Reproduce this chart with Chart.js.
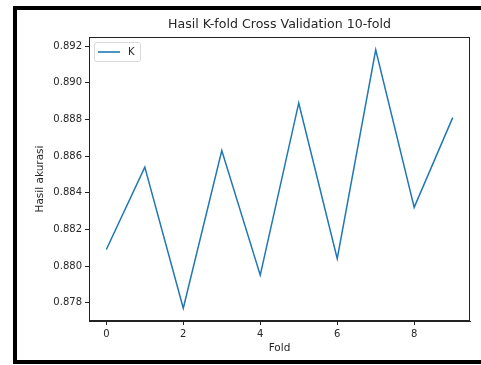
<!DOCTYPE html>
<html>
<head>
<meta charset="utf-8">
<script src="https://cdn.jsdelivr.net/npm/chart.js@4.4.1/dist/chart.umd.min.js"></script>
<style>
  html, body { margin: 0; padding: 0; background: #fff; overflow: hidden; }
  #wrap { position: relative; width: 481px; height: 365px; overflow: hidden; }
  #frame {
    position: absolute; left: 13px; top: 6px; width: 464px; height: 350px;
    border: 4px solid #000; border-right: none; pointer-events: none;
  }
  canvas { position: absolute; left: 0; top: 0; }
</style>
</head>
<body>
<div id="wrap">
  <canvas id="chart" width="481" height="365"></canvas>
  <div id="frame"></div>
</div>
<script>
// data
const folds = [0, 1, 2, 3, 4, 5, 6, 7, 8, 9];
const akurasi = [0.8809, 0.8854, 0.8777, 0.8863, 0.8795, 0.8889, 0.8804, 0.8918, 0.8832, 0.8881];
const xTicks = [0, 2, 4, 6, 8];
const yTicks = [0.878, 0.880, 0.882, 0.884, 0.886, 0.888, 0.890, 0.892];
const seriesLabel = 'K';
const chartTitle = 'Hasil K-fold Cross Validation 10-fold';

const textColor = '#262626';
const lineColor = '#1f77b4';

// axes frame (matplotlib style box round the plot)
const frameBox = {
    id: 'frameBox',
    afterDraw(chart) {
        const { ctx, chartArea: a } = chart;
        ctx.save();
        ctx.strokeStyle = '#222';
        ctx.lineWidth = 1;
        ctx.strokeRect(a.left + 0.5, a.top + 0.5, a.right - a.left - 1, a.bottom - a.top - 1);
        ctx.restore();
    }
};

// title centred over the plot area, like matplotlib does
const axesTitle = {
    id: 'axesTitle',
    afterDraw(chart) {
        const { ctx, chartArea: a } = chart;
        ctx.save();
        ctx.fillStyle = textColor;
        ctx.font = '12.6px "DejaVu Sans"';
        ctx.textAlign = 'center';
        ctx.textBaseline = 'middle';
        ctx.fillText(chartTitle, (a.left + a.right) / 2, a.top - 12);
        ctx.restore();
    }
};

// legend box drawn inside the plot, upper left
const innerLegend = {
    id: 'innerLegend',
    afterDraw(chart) {
        const { ctx, chartArea: a } = chart;
        const ds = chart.data.datasets[0];
        const x = a.left + 5, y = a.top + 5, w = 46, h = 19;
        ctx.save();
        ctx.fillStyle = 'rgba(255,255,255,0.8)';
        ctx.strokeStyle = '#d9d9d9';
        ctx.lineWidth = 1;
        ctx.beginPath();
        ctx.roundRect(x + 0.5, y + 0.5, w, h, 2);
        ctx.fill();
        ctx.stroke();
        ctx.strokeStyle = ds.borderColor;
        ctx.lineWidth = 1.6;
        ctx.beginPath();
        ctx.moveTo(x + 4, y + h / 2 + 0.5);
        ctx.lineTo(x + 26, y + h / 2 + 0.5);
        ctx.stroke();
        ctx.fillStyle = textColor;
        ctx.font = '10px "DejaVu Sans"';
        ctx.textBaseline = 'middle';
        ctx.fillText(ds.label, x + 34, y + h / 2 + 1);
        ctx.restore();
    }
};

const ctx = document.getElementById('chart').getContext('2d');
new Chart(ctx, {
    type: 'line',
    data: {
        datasets: [{
            label: seriesLabel,
            data: folds.map((f, i) => ({ x: f, y: akurasi[i] })),
            borderColor: lineColor,
            borderWidth: 1.5,
            pointRadius: 0,
            tension: 0,
            fill: false
        }]
    },
    options: {
        responsive: false,
        animation: false,
        layout: { padding: { left: 34, top: 37, right: 11, bottom: 10 } },
        plugins: {
            legend: { display: false },
            tooltip: { enabled: false },
            title: { display: false }
        },
        scales: {
            x: {
                type: 'linear',
                min: -0.45,
                max: 9.45,
                afterBuildTicks: s => { s.ticks = xTicks.map(v => ({ value: v })); },
                afterFit: s => { s.height = 34; },
                grid: { drawOnChartArea: false, tickLength: 4, color: '#222' },
                border: { color: '#222' },
                ticks: {
                    color: textColor, padding: 3,
                    font: { family: 'DejaVu Sans', size: 10 },
                    callback: v => String(v)
                },
                title: {
                    display: true, text: 'Fold', color: textColor,
                    padding: 0,
                    font: { family: 'DejaVu Sans', size: 10.5 }
                }
            },
            y: {
                min: 0.8770,
                max: 0.8925,
                afterBuildTicks: s => { s.ticks = yTicks.map(v => ({ value: v })); },
                afterFit: s => { s.width = 55; },
                grid: { drawOnChartArea: false, tickLength: 4, color: '#222' },
                border: { color: '#222' },
                ticks: {
                    color: textColor, padding: 3,
                    font: { family: 'DejaVu Sans', size: 10 },
                    callback: v => v.toFixed(3)
                },
                title: {
                    display: true, text: 'Hasil akurasi', color: textColor,
                    padding: 0,
                    font: { family: 'DejaVu Sans', size: 10.5 }
                }
            }
        }
    },
    plugins: [frameBox, axesTitle, innerLegend]
});
</script>
</body>
</html>
